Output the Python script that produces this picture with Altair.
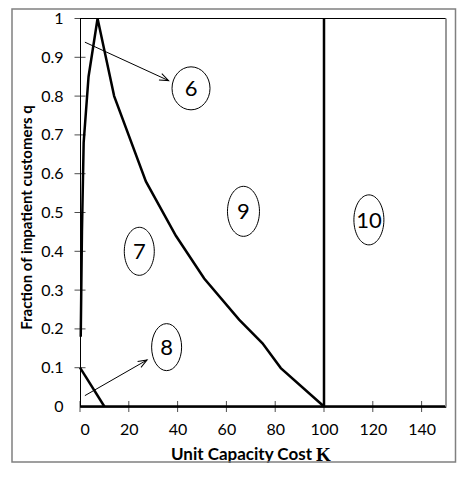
import math
import altair as alt
import pandas as pd

W, H = 366, 388
K_MAX = 150

# ---- data ----
main_K = [0.3, 0.8, 1.5, 3.5, 7.2, 14.0, 27.0, 39.3, 50.9, 65.2, 74.8, 82.3, 100]
main_q = [0.18, 0.45, 0.68, 0.85, 1.0, 0.80, 0.58, 0.44, 0.33, 0.224, 0.163, 0.099, 0.0]
small_K = [0, 10]
small_q = [0.1, 0.0]
vert_K = [100, 100]
vert_q = [0.0, 1.0]
base_K = [0, 150]
base_q = [0.0, 0.0]

region_labels = ["6", "7", "8", "9", "10"]
region_K = [45.5, 24.3, 35.5, 67.0, 118.4]
region_q = [0.82, 0.40, 0.153, 0.503, 0.481]
region_rx = [19, 15, 15, 16, 15]     # ellipse half-width, px
region_ry = [21.5, 24, 23.5, 25, 25]  # ellipse half-height, px

arrow_names = ["to6", "to8"]
arrow_K0 = [2.0, 2.0]
arrow_q0 = [0.939, 0.028]
arrow_K1 = [36.3, 27.5]
arrow_q1 = [0.84, 0.12]

x_ticks = [0, 20, 40, 60, 80, 100, 120, 140]
y_ticks = [0, 0.1, 0.2, 0.3, 0.4, 0.5, 0.6, 0.7, 0.8, 0.9, 1.0]

FONT = "Lato"

# ---- tables ----
rows = []
for name, ks, qs in [("main", main_K, main_q), ("small", small_K, small_q),
                     ("vert", vert_K, vert_q), ("base", base_K, base_q)]:
    for i, (k, q) in enumerate(zip(ks, qs)):
        rows.append({"series": name, "i": i, "K": k, "q": q})
curves = pd.DataFrame(rows)

R = 25.0
def ellipse_path(rx, ry):
    a, b = rx / R, ry / R
    c = 0.5523
    return (f"M 0 {-b} C {c*a} {-b} {a} {-c*b} {a} 0 "
            f"C {a} {c*b} {c*a} {b} 0 {b} "
            f"C {-c*a} {b} {-a} {c*b} {-a} 0 "
            f"C {-a} {-c*b} {-c*a} {-b} 0 {-b} Z")

regions = pd.DataFrame({"label": region_labels, "K": region_K, "q": region_q})
shape_range = [ellipse_path(rx, ry) for rx, ry in zip(region_rx, region_ry)]

arrows = pd.DataFrame({"name": arrow_names, "K0": arrow_K0, "q0": arrow_q0,
                       "K1": arrow_K1, "q1": arrow_q1})
angles = []
for k0, q0, k1, q1 in zip(arrow_K0, arrow_q0, arrow_K1, arrow_q1):
    dx = (k1 - k0) * W / K_MAX
    dy = -(q1 - q0) * H
    angles.append((math.degrees(math.atan2(dx, -dy)) + 360) % 360)
arrows["angle"] = angles

xt = pd.DataFrame({"K": x_ticks, "q": [0] * len(x_ticks)})
yt = pd.DataFrame({"K": [0] * (len(y_ticks) - 1), "q": y_ticks[1:]})

xs = alt.Scale(domain=[0, K_MAX], nice=False, zero=False)
ys = alt.Scale(domain=[0, 1], nice=False, zero=False)

x_axis = alt.Axis(values=x_ticks, ticks=False, grid=False, domain=True, domainColor="black",
                  labelFont=FONT, labelFontSize=16, labelColor="black", labelPadding=15,
                  labelOverlap=False, title=None)
y_axis = alt.Axis(values=y_ticks, format="~g", ticks=False, grid=False, domain=True,
                  domainColor="black", labelFont=FONT, labelFontSize=16, labelColor="black",
                  labelPadding=17, labelOverlap=False,
                  title="Fraction of impatient customers q",
                  titleFont=FONT, titleFontSize=15, titleFontWeight="bold", titleColor="black",
                  titleX=-53.5, titleY=198.5, titleAngle=270, titleAlign="center",
                  titleBaseline="middle")

def X(field):
    return alt.X(field, scale=xs, axis=x_axis)

def Y(field):
    return alt.Y(field, scale=ys, axis=y_axis)

lines = alt.Chart(curves).mark_line(color="black", strokeWidth=2.5).encode(
    x=X("K:Q"), y=Y("q:Q"), detail="series:N", order="i:Q",
)

top_rule = alt.Chart(pd.DataFrame({"K": [0], "K2": [K_MAX], "q": [1.0]})).mark_rule(
    color="black", strokeWidth=1).encode(x=X("K:Q"), x2="K2:Q", y=Y("q:Q"))
right_rule = alt.Chart(pd.DataFrame({"K": [K_MAX], "q": [0.0], "q2": [1.0]})).mark_rule(
    color="#999999", strokeWidth=2).encode(x=X("K:Q"), y=Y("q:Q"), y2="q2:Q")

xtick_layer = alt.Chart(xt).mark_tick(orient="vertical", color="black", size=11,
                                       thickness=1).encode(x=X("K:Q"), y=Y("q:Q"))
ytick_layer = alt.Chart(yt).mark_tick(orient="horizontal", color="black", size=11,
                                       thickness=1).encode(x=X("K:Q"), y=Y("q:Q"))

ellipses = alt.Chart(regions).mark_point(filled=False, color="black", strokeWidth=1,
                                          size=(2 * R) ** 2, opacity=1).encode(
    x=X("K:Q"), y=Y("q:Q"),
    shape=alt.Shape("label:N", scale=alt.Scale(domain=region_labels, range=shape_range),
                    legend=None),
)
region_text = alt.Chart(regions).mark_text(font=FONT, fontSize=22, color="black",
                                            baseline="middle", dy=1).encode(
    x=X("K:Q"), y=Y("q:Q"), text="label:N")

arrow_lines = alt.Chart(arrows).mark_rule(color="black", strokeWidth=1).encode(
    x=X("K0:Q"), y=Y("q0:Q"), x2="K1:Q", y2="q1:Q")
arrow_heads = alt.Chart(arrows).mark_point(
    shape="M -0.38 1 L 0 0 L 0.38 1", filled=False, color="black", strokeWidth=1,
    size=324, opacity=1).encode(x=X("K1:Q"), y=Y("q1:Q"),
                                angle=alt.Angle("angle:Q", scale=None))

title_df = pd.DataFrame({"t": ["Unit Capacity Cost"], "k": ["K"]})
x_title = alt.Chart(title_df).mark_text(font=FONT, fontSize=17, fontWeight="bold",
                                         color="black", align="right",
                                         baseline="middle").encode(
    text="t:N", x=alt.value(232), y=alt.value(436))
x_title_k = alt.Chart(title_df).mark_text(font="Liberation Serif", fontSize=19,
                                           fontWeight="bold", color="black", align="left",
                                           baseline="middle").encode(
    text="k:N", x=alt.value(236), y=alt.value(436))

frame = alt.Chart(title_df).mark_rect(filled=False, stroke="#808080", strokeWidth=1.5).encode(
    x=alt.value(-68), x2=alt.value(375.5), y=alt.value(-9.5), y2=alt.value(443.5))

chart = alt.layer(
    lines, top_rule, right_rule, xtick_layer, ytick_layer, ellipses, region_text,
    arrow_lines, arrow_heads, x_title, x_title_k, frame,
).properties(
    width=W, height=H,
    autosize=alt.AutoSizeParams(type="none"),
    padding={"left": 72, "top": 10.5, "right": 11, "bottom": 57},
    background="white",
).configure_view(stroke=None).configure_axis(labelOverlap=False)

chart.save("out.html", embed_options={"renderer": "svg", "actions": False})
